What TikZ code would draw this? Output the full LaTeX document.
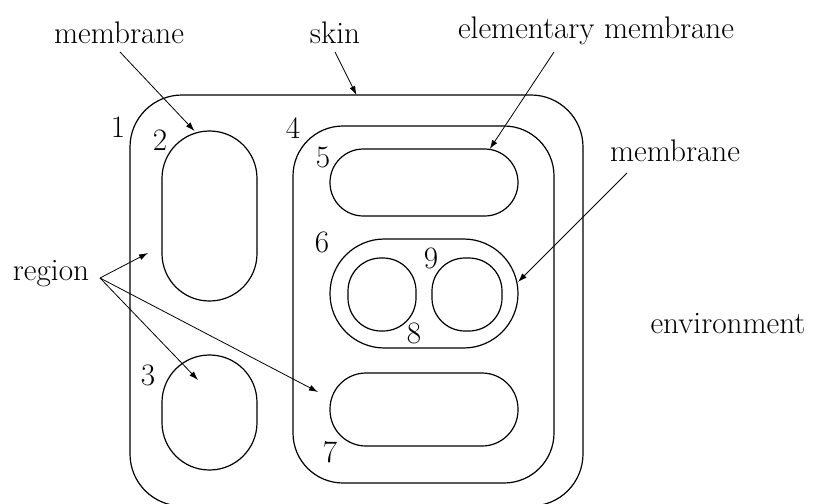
\documentclass[tikz,border=0pt]{standalone}
\usetikzlibrary{arrows.meta}
\begin{document}
\begin{tikzpicture}[x=0.5pt,y=-0.5pt,
  memb/.style={draw,line width=0.6pt,inner sep=0pt,outer sep=0pt},
  lbl/.style={inner sep=0pt,font=\fontsize{15.6}{18}\selectfont},
  num/.style={inner sep=0pt,font=\fontsize{15.6}{18}\selectfont},
  arr/.style={line width=0.4pt,-{Latex[length=4.5pt,width=3pt]}}]
\useasboundingbox (0,0) rectangle (815,504);
% membranes
\node[memb,minimum width=226.5pt,minimum height=205.5pt,rounded corners=26pt] (skin) at (356.5,300.5) {};
\node[memb,minimum width=47.5pt,minimum height=85pt,rounded corners=23.7pt] (m2) at (209.5,216) {};
\node[memb,minimum width=47.5pt,minimum height=57.5pt,rounded corners=23.7pt] (m3) at (209.5,412.5) {};
\node[memb,minimum width=130.5pt,minimum height=178.5pt,rounded corners=25pt] (m4) at (423.5,304.5) {};
\node[memb,minimum width=94pt,minimum height=33.5pt,rounded corners=16.7pt] (m5) at (424,182.5) {};
\node[memb,minimum width=94pt,minimum height=54.5pt,rounded corners=27.2pt] (m6) at (424,293.5) {};
\node[memb,minimum width=34pt,minimum height=36.5pt,rounded corners=16.5pt] (m8) at (382,294.5) {};
\node[memb,minimum width=35pt,minimum height=36.5pt,rounded corners=16.5pt] (m9) at (467,294.5) {};
\node[memb,minimum width=94pt,minimum height=36.5pt,rounded corners=18pt] (m7) at (424,409.5) {};
% numbers
\node[num] (n1) at (118,127) {1};
\node[num] (n2) at (160,140) {2};
\node[num] (n3) at (148,375) {3};
\node[num] (n4) at (293,128) {4};
\node[num] (n5) at (323,157) {5};
\node[num] (n6) at (322,242) {6};
\node[num] (n7) at (330,452) {7};
\node[num] (n8) at (414,333) {8};
\node[num] (n9) at (431,258) {9};
% labels
\node[lbl] (lmem1) at (119,33) {membrane};
\node[lbl] (lskin) at (335,33) {skin};
\node[lbl] (lelem) at (596,31) {elementary membrane};
\node[lbl] (lmem2) at (675,151) {membrane};
\node[lbl] (lreg) at (51,274) {region};
\node[lbl] (lenv) at (728,324) {environment};
% arrow anchors
\coordinate (s1) at (120,52);
\coordinate (s2) at (335,52);
\coordinate (s3) at (554,52);
\coordinate (s4) at (627,173);
\coordinate (r0) at (100,278);
\coordinate (ra) at (148,253);
\coordinate (rb) at (198,380);
\coordinate (rc) at (318,392);
% arrows
\draw[arr] (s1) -- (m2.100);
\draw[arr] (s2) -- (skin.north);
\draw[arr] (s3) -- (m5.27);
\draw[arr] (s4) -- (m6.7);
\draw[arr] (r0) -- (ra);
\draw[arr] (r0) -- (rb);
\draw[arr] (r0) -- (rc);
\end{tikzpicture}
\end{document}
